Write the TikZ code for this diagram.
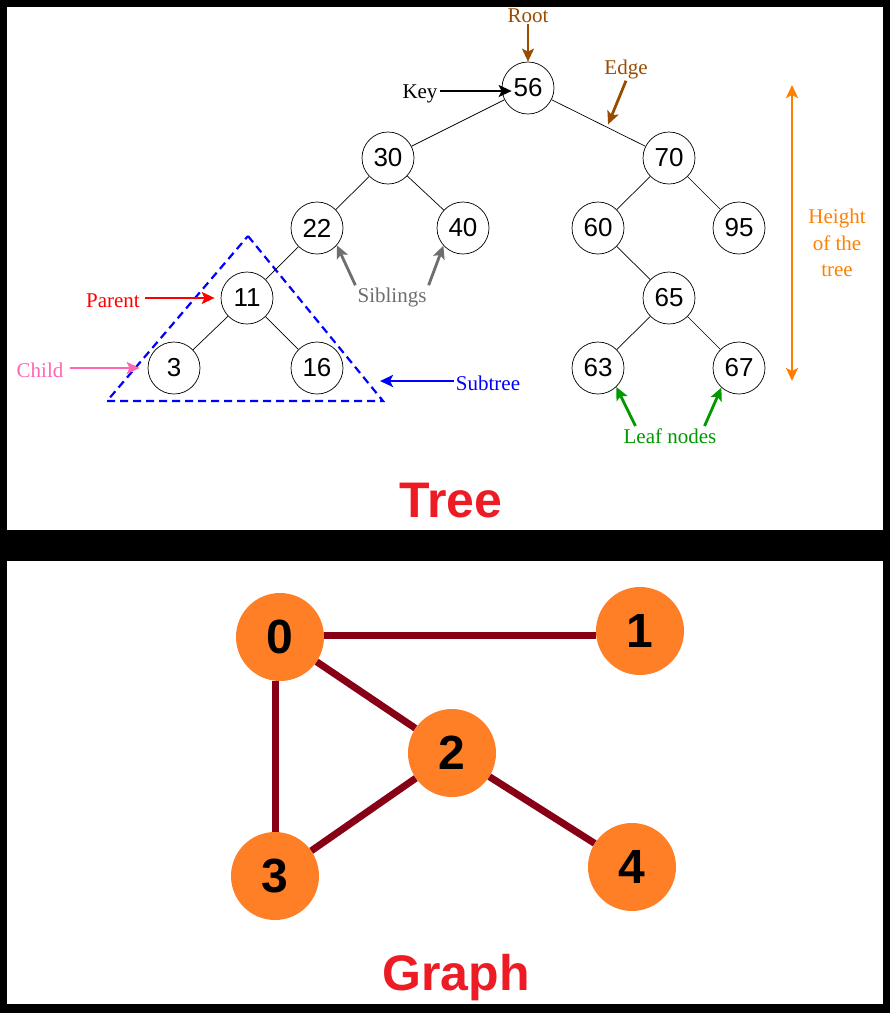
\documentclass[tikz,border=0pt]{standalone}
\usepackage{fontspec}
\setmainfont{Liberation Serif}
\setsansfont{Liberation Sans}
\usetikzlibrary{calc,arrows.meta}

\definecolor{rootbrown}{RGB}{153,76,0}
\definecolor{childpink}{RGB}{255,102,178}
\definecolor{sibgray}{RGB}{110,110,110}
\definecolor{leafgreen}{RGB}{0,153,0}
\definecolor{heightorange}{RGB}{255,128,0}
\definecolor{titlered}{RGB}{237,28,36}
\definecolor{nodeorange}{RGB}{255,127,39}
\definecolor{edgered}{RGB}{136,0,21}

\begin{document}
\begin{tikzpicture}[x=1pt,y=-1pt,treenode/.style={draw,circle,line width=0.7pt,minimum size=52pt,inner sep=0pt,fill=white,font=\sffamily\fontsize{26}{26}\selectfont},graphnode/.style={circle,fill=nodeorange,minimum size=88pt,inner sep=0pt,font=\sffamily\bfseries\fontsize{48}{48}\selectfont},tag/.style={font=\fontsize{21}{26.5}\selectfont,inner sep=2pt},title/.style={text=titlered,font=\sffamily\bfseries\fontsize{50}{50}\selectfont},arrow/.style={-{Stealth[length=13pt,width=12pt,inset=3pt]},line width=2.8pt},link/.style={line width=0.7pt},gedge/.style={draw=edgered,line width=7pt}]
  % panels
  \fill[black] (0,0) rectangle (890,1013);
  \fill[white] (7,7) rectangle (883,530);
  \fill[white] (7,561) rectangle (883,1004);

  % tree
  \node[treenode] (n56) at (528,88) {56};
  \node[treenode] (n30) at (388,158) {30};
  \node[treenode] (n70) at (669,158) {70};
  \node[treenode] (n22) at (317,228) {22};
  \node[treenode] (n40) at (463,228) {40};
  \node[treenode] (n60) at (598,228) {60};
  \node[treenode] (n95) at (739,228) {95};
  \node[treenode] (n11) at (247,298) {11};
  \node[treenode] (n65) at (669,298) {65};
  \node[treenode] (n3) at (174,368) {3};
  \node[treenode] (n16) at (317,368) {16};
  \node[treenode] (n63) at (598,368) {63};
  \node[treenode] (n67) at (739,368) {67};
  \draw[link] (n56) -- (n30);
  \draw[link] (n56) -- (n70);
  \draw[link] (n30) -- (n22);
  \draw[link] (n30) -- (n40);
  \draw[link] (n70) -- (n60);
  \draw[link] (n70) -- (n95);
  \draw[link] (n22) -- (n11);
  \draw[link] (n11) -- (n3);
  \draw[link] (n11) -- (n16);
  \draw[link] (n60) -- (n65);
  \draw[link] (n65) -- (n63);
  \draw[link] (n65) -- (n67);

  % subtree
  \coordinate (apex) at (248,236);
  \coordinate (left) at (107,401);
  \coordinate (right) at (383,401);
  \draw[blue,line width=2.2pt,dash pattern=on 8pt off 5pt] (apex) -- (right) -- (left) -- cycle;

  % labels
  \node[tag,text=rootbrown,anchor=base] (root) at (528,22) {Root};
  \node[tag,anchor=base] (key) at (420,98) {Key};
  \node[tag,text=rootbrown,anchor=base] (edge) at (626,74) {Edge};
  \node[tag,text=red,anchor=base] (parent) at (113,307) {Parent};
  \node[tag,text=childpink,anchor=base] (child) at (40,377) {Child};
  \node[tag,text=sibgray,anchor=base] (sib) at (392,302) {Siblings};
  \node[tag,text=blue,anchor=base] (subtree) at (488,390) {Subtree};
  \node[tag,text=leafgreen,anchor=base] (leaf) at (670,443) {Leaf nodes};
  \node[tag,text=heightorange,align=center] (height) at (837,243) {Height\\of the\\tree};
  \coordinate (edgept) at ($(n56)!0.56!(n70)$);
  \coordinate (subtip) at (380,381);
  \coordinate (htop) at (792,85);
  \coordinate (hbot) at (792,381);
  \draw[arrow,rootbrown] (root) -- (n56);
  \draw[arrow] ([yshift=-3pt]key.east |- n56) -- ([xshift=10pt,yshift=-3pt]n56.west);
  \draw[arrow,rootbrown,shorten >=3pt] (edge.south) -- (edgept);
  \draw[arrow,red] ([xshift=3pt]parent.east |- n11) -- ([xshift=-6pt]n11.west);
  \draw[arrow,childpink] ([xshift=4pt]child.east |- n3) -- ([xshift=-8pt]n3.west);
  \draw[arrow,sibgray] (sib.north west) -- (n22.-41);
  \draw[arrow,sibgray] (sib.north east) -- (n40.-138);
  \draw[arrow,blue] (subtree.west |- subtip) -- (subtip);
  \draw[arrow,leafgreen] ([xshift=14pt]leaf.north west) -- (n63.-46);
  \draw[arrow,leafgreen] ([xshift=-14pt]leaf.north east) -- (n67.-132);
  \draw[arrow,heightorange,{Stealth[length=13pt,width=12pt,inset=3pt]}-{Stealth[length=13pt,width=12pt,inset=3pt]}] (htop) -- (hbot);
  \node[title,anchor=base] (treetitle) at (451,517) {Tree};

  % graph
  \node[graphnode] (g0) at (280,637) {0};
  \node[graphnode] (g1) at (640,631) {1};
  \node[graphnode] (g2) at (452,753) {2};
  \node[graphnode] (g3) at (275,876) {3};
  \node[graphnode] (g4) at (632,867) {4};
  \draw[gedge] (g0.east |- 0,635) -- (g1.west |- 0,635);
  \draw[gedge] (g0) -- (g2);
  \draw[gedge] (g3.north) -- (g3.north |- g0.south);
  \draw[gedge] (g2) -- (g3);
  \draw[gedge] (g2) -- (g4);
  \node[title,anchor=base] (graphtitle) at (456,990) {Graph};
\end{tikzpicture}
\end{document}
